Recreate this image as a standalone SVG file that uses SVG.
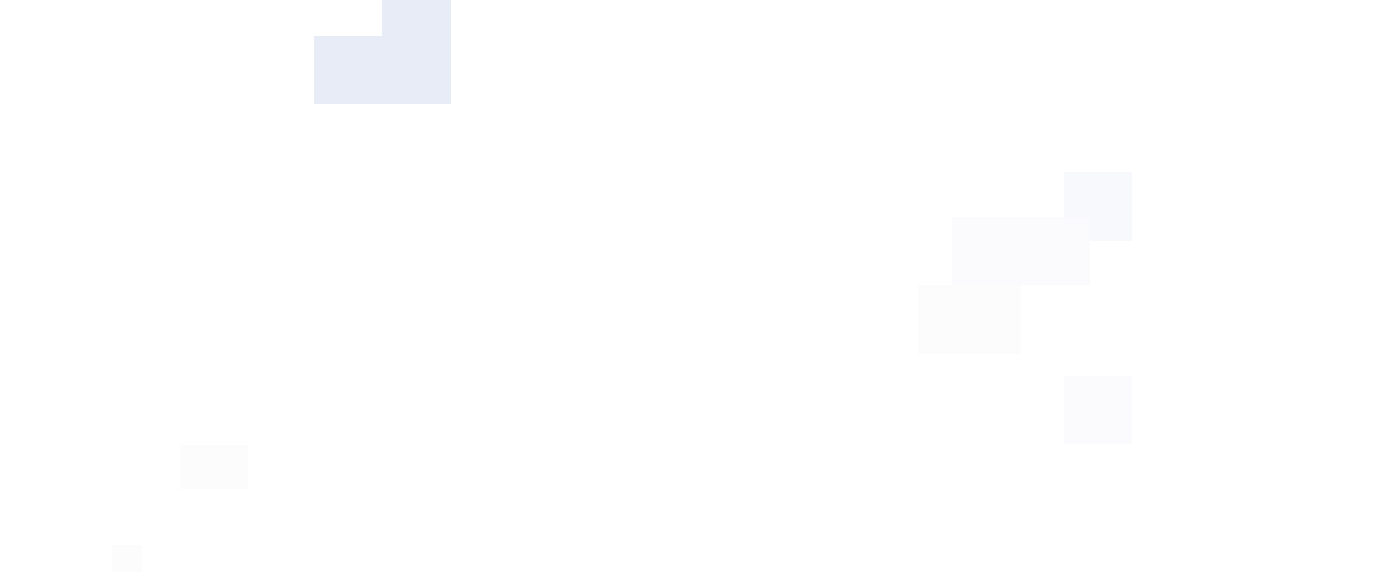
<svg xmlns="http://www.w3.org/2000/svg" width="1392" height="572" viewBox="0 0 1392 572">
<style>.a{fill:#e8ecf7}.b{fill:#f8f9fd}.c{fill:#fbfbfe}.d{fill:#fcfcfd}</style>
<rect width="1392" height="572" fill="#ffffff"/>
<rect class="a" x="382" y="0" width="69" height="36"/>
<rect class="a" x="314" y="36" width="137" height="68"/>
<rect class="b" x="1064" y="172" width="68" height="69"/>
<rect class="c" x="952" y="217" width="138" height="68"/>
<rect class="d" x="918" y="285" width="103" height="69"/>
<rect class="c" x="1064" y="376" width="68" height="68"/>
<rect class="d" x="180" y="445" width="68" height="44"/>
<rect class="d" x="112" y="545" width="30" height="27"/>
</svg>
